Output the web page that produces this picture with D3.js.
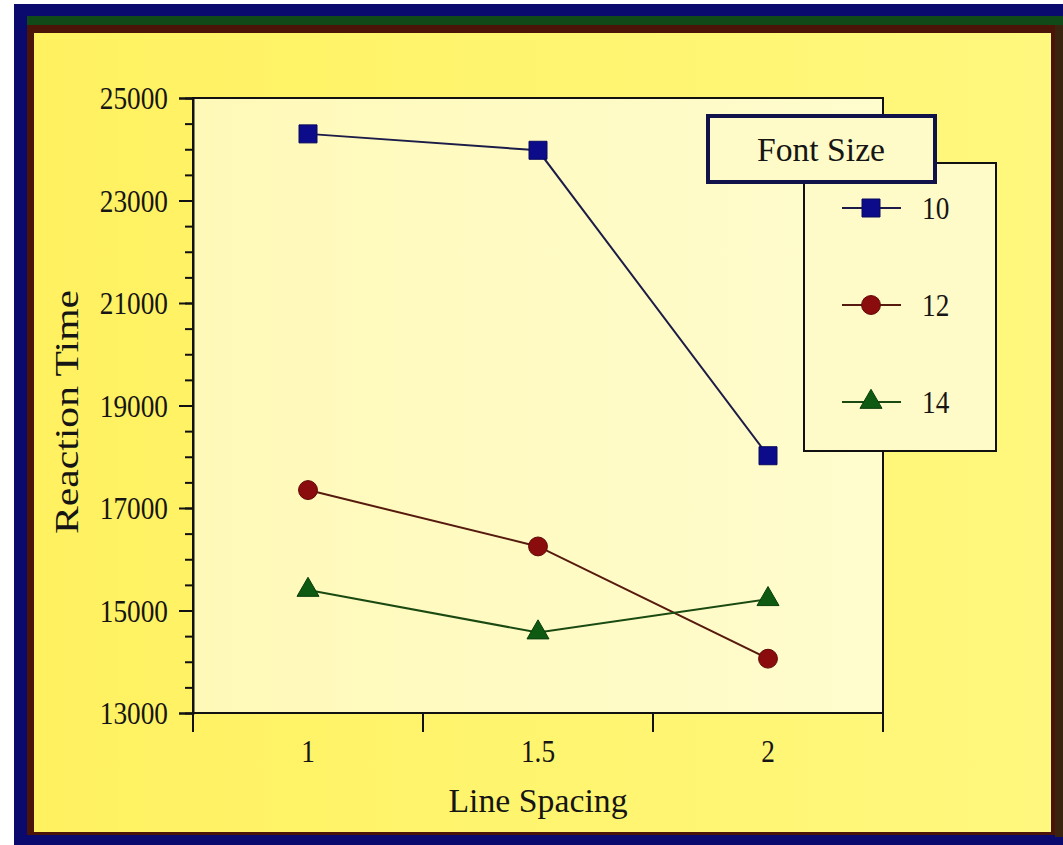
<!DOCTYPE html>
<html>
<head>
<meta charset="utf-8">
<script src="https://cdn.jsdelivr.net/npm/d3@7"></script>
<style>
  body { margin: 0; background: #fff; }
  text { font-family: "Liberation Serif", "Times New Roman", serif; fill: #151515; }
</style>
</head>
<body>
<div id="chart"></div>
<script>
// chart data
var spacings = ["1", "1.5", "2"];
var fontSizes = ["10", "12", "14"];
var size10 = [24300, 23980, 18020];
var size12 = [17350, 16250, 14060];
var size14 = [15400, 14570, 15220];
var yTicks = [13000, 15000, 17000, 19000, 21000, 23000, 25000];

var W = 1063, H = 845;

// the original uses a narrow screen font, squeeze text a bit
function condense(sel, ratio) {
    sel.each(function() {
        var len = this.getComputedTextLength();
        d3.select(this).attr("textLength", len * ratio).attr("lengthAdjust", "spacingAndGlyphs");
    });
}

var svg = d3.select("#chart").append("svg")
    .attr("width", W)
    .attr("height", H);

// frame: navy outer, green top band, maroon inner line, yellow face
svg.append("rect").attr("x", 14).attr("y", 4).attr("width", W - 14).attr("height", H - 4).attr("fill", "#0a0a6e");
svg.append("rect").attr("x", 27).attr("y", 16).attr("width", W - 27).attr("height", 10).attr("fill", "#0f4a18");
svg.append("rect").attr("x", 1055).attr("y", 25).attr("width", 8).attr("height", 812).attr("fill", "#3a2410");
svg.append("rect").attr("x", 27).attr("y", 25).attr("width", 1028).attr("height", 810).attr("fill", "#4a1408");

var defs = svg.append("defs");
var bg = defs.append("linearGradient").attr("id", "bgGrad").attr("x1", 0).attr("x2", 1).attr("y1", 0).attr("y2", 0);
bg.append("stop").attr("offset", 0).attr("stop-color", "#fff160");
bg.append("stop").attr("offset", 1).attr("stop-color", "#fff87e");
var pg = defs.append("linearGradient").attr("id", "plotGrad").attr("x1", 0).attr("x2", 1).attr("y1", 0).attr("y2", 0);
pg.append("stop").attr("offset", 0).attr("stop-color", "#fff9b8");
pg.append("stop").attr("offset", 1).attr("stop-color", "#fffcce");

svg.append("rect").attr("x", 34).attr("y", 33).attr("width", 1017).attr("height", 799).attr("fill", "url(#bgGrad)");

var plot = { left: 193, right: 883, top: 98, bottom: 713 };

var x = d3.scaleBand()
    .domain(spacings)
    .range([plot.left, plot.right]);

var y = d3.scaleLinear()
    .domain([13000, 25000])
    .range([plot.bottom, plot.top]);

// plot area
svg.append("rect")
    .attr("x", plot.left).attr("y", plot.top)
    .attr("width", plot.right - plot.left).attr("height", plot.bottom - plot.top)
    .attr("fill", "url(#plotGrad)")
    .attr("stroke", "#111").attr("stroke-width", 2);

// y axis: minor + major ticks
var yMinor = svg.append("g")
    .attr("transform", "translate(" + plot.left + ",0)")
    .call(d3.axisLeft(y).tickValues(d3.range(13000, 25001, 500)).tickSize(8).tickFormat(""));
yMinor.select(".domain").remove();

var yAxis = svg.append("g")
    .attr("transform", "translate(" + plot.left + ",0)")
    .call(d3.axisLeft(y).tickValues(yTicks).tickSize(14).tickPadding(11).tickFormat(d3.format("d")));
yAxis.select(".domain").attr("stroke", "#111").attr("stroke-width", 2);
yAxis.selectAll("text").style("font-size", "31px").attr("font-family", null).attr("dy", "0.34em").call(condense, 0.88);
svg.selectAll(".tick line").attr("stroke", "#111").attr("stroke-width", 2);

// x axis: labels centred in bands, ticks on band edges
var xAxis = svg.append("g")
    .attr("transform", "translate(0," + plot.bottom + ")")
    .call(d3.axisBottom(x).tickSize(0).tickPadding(27));
xAxis.select(".domain").remove();
xAxis.selectAll("text").style("font-size", "31px").attr("font-family", null).call(condense, 0.88);

var edges = spacings.map(function(d) { return x(d); }).concat([x.range()[1]]);
svg.append("g").selectAll("line")
    .data(edges)
    .join("line")
    .attr("x1", function(d) { return d; })
    .attr("x2", function(d) { return d; })
    .attr("y1", plot.bottom)
    .attr("y2", plot.bottom + 19)
    .attr("stroke", "#111")
    .attr("stroke-width", 2);

// axis titles
svg.append("text")
    .attr("text-anchor", "middle")
    .attr("transform", "translate(78,412)rotate(-90)")
    .style("font-size", "34px")
    .attr("textLength", 244)
    .attr("lengthAdjust", "spacingAndGlyphs")
    .text("Reaction Time");

svg.append("text")
    .attr("text-anchor", "middle")
    .attr("x", 538)
    .attr("y", 812)
    .style("font-size", "34px")
    .attr("textLength", 179)
    .attr("lengthAdjust", "spacingAndGlyphs")
    .text("Line Spacing");

// series
var series = [
    { name: fontSizes[0], values: size10, fill: "#0c0c8a", line: "#1c1c48", shape: d3.symbolSquare, size: 324 },
    { name: fontSizes[1], values: size12, fill: "#8a0c0c", line: "#561a0e", shape: d3.symbolCircle, size: 280 },
    { name: fontSizes[2], values: size14, fill: "#0e5a12", line: "#1a4a12", shape: d3.symbolTriangle, size: 210 }
];

var cx = function(i) { return x(spacings[i]) + x.bandwidth() / 2; };

var line = d3.line()
    .x(function(d, i) { return cx(i); })
    .y(function(d) { return y(d); });

series.forEach(function(s) {
    svg.append("path")
        .datum(s.values)
        .attr("d", line)
        .attr("fill", "none")
        .attr("stroke", s.line)
        .attr("stroke-width", 2);

    svg.append("g").selectAll("path")
        .data(s.values)
        .join("path")
        .attr("transform", function(d, i) { return "translate(" + cx(i) + "," + y(d) + ")"; })
        .attr("d", d3.symbol().type(s.shape).size(s.size))
        .attr("fill", s.fill)
        .attr("stroke", d3.color(s.fill).darker(1))
        .attr("stroke-width", 1);
});

// legend
var legend = svg.append("g");
legend.append("rect")
    .attr("x", 804).attr("y", 163).attr("width", 192).attr("height", 288)
    .attr("fill", "#fffbc8").attr("stroke", "#111").attr("stroke-width", 2);

var ly = d3.scalePoint().domain(fontSizes).range([208, 402]);

series.forEach(function(s) {
    var g = legend.append("g").attr("transform", "translate(0," + ly(s.name) + ")");
    g.append("line").attr("x1", 842).attr("x2", 901).attr("stroke", s.line).attr("stroke-width", 2);
    g.append("path")
        .attr("transform", "translate(871,0)")
        .attr("d", d3.symbol().type(s.shape).size(s.size))
        .attr("fill", s.fill)
        .attr("stroke", d3.color(s.fill).darker(1));
    g.append("text").attr("x", 922).attr("dy", "0.34em").style("font-size", "31px").text(s.name).call(condense, 0.88);
});

legend.append("rect")
    .attr("x", 708).attr("y", 116).attr("width", 227).attr("height", 66)
    .attr("fill", "#fffbc8").attr("stroke", "#12124a").attr("stroke-width", 4);
legend.append("text")
    .attr("x", 821).attr("y", 161)
    .attr("text-anchor", "middle")
    .style("font-size", "33px")
    .attr("textLength", 128)
    .attr("lengthAdjust", "spacingAndGlyphs")
    .text("Font Size");
</script>
</body>
</html>
